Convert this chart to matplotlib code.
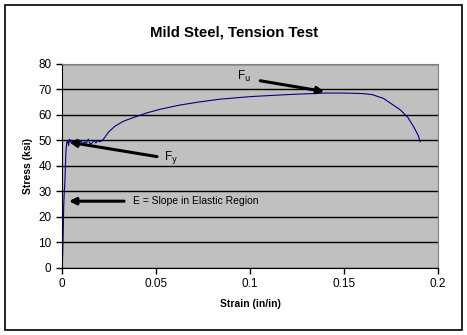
import matplotlib.pyplot as plt
from matplotlib.patches import Rectangle

plt.rcParams['font.family'] = ['Liberation Sans', 'DejaVu Sans']

strain = [0, 0.0003, 0.0006, 0.0009, 0.0012, 0.0015, 0.0018, 0.0021, 0.0025, 0.003,
          0.0035, 0.004, 0.005, 0.006, 0.007, 0.008, 0.009, 0.010, 0.011, 0.012,
          0.013, 0.014, 0.015, 0.016, 0.017, 0.018, 0.019, 0.020, 0.0215, 0.023,
          0.025, 0.028, 0.0325, 0.038, 0.045, 0.052, 0.062, 0.072, 0.084, 0.1,
          0.11, 0.12, 0.13, 0.14, 0.15, 0.16, 0.165, 0.171, 0.175, 0.18,
          0.184, 0.187, 0.1895, 0.1905]
stress = [0, 4, 13, 24, 30, 33, 40, 46, 49, 50,
          48, 50.5, 49, 50, 49.5, 50.5, 49, 50, 48.5, 49.5,
          49, 50.5, 48.5, 49, 50, 49, 50, 49.5, 50, 51.5,
          53.5, 55.5, 57.5, 59, 60.8, 62.2, 63.8, 65, 66.2, 67.2,
          67.6, 68, 68.3, 68.6, 68.6, 68.4, 68, 66.5, 64.5, 62,
          59, 55.5, 52, 49.5]

fig = plt.figure(figsize=(4.67, 3.35), dpi=100)
fig.patches.append(Rectangle((0.011, 0.015), 0.978, 0.97, transform=fig.transFigure,
                             fill=False, edgecolor='black', lw=1.2))

ax = fig.add_axes([0.1328, 0.2, 0.805, 0.609])
ax.set_facecolor('#C0C0C0')
ax.plot(strain, stress, color='#000080', lw=0.8)

ax.set_xlim(0, 0.2)
ax.set_ylim(0, 80)
ax.set_xticks([0, 0.05, 0.1, 0.15, 0.2])
ax.set_xticklabels(['0', '0.05', '0.1', '0.15', '0.2'])
ax.set_yticks(range(0, 81, 10))
ax.yaxis.grid(True, color='black', lw=1)
ax.set_axisbelow(True)
ax.tick_params(direction='out', length=4, labelsize=8.5, width=1)
for s in ['top', 'right']:
    ax.spines[s].set_color('#808080')

fig.text(0.501, 0.9015, 'Mild Steel, Tension Test', fontsize=10.8, fontweight='bold',
         ha='center', va='center')
ax.set_xlabel('Strain (in/in)', fontsize=7.5, fontweight='bold', labelpad=6)
ax.set_ylabel('Stress (ksi)', fontsize=7.5, fontweight='bold', labelpad=4)

arrow = dict(arrowstyle='-|>', color='black', lw=2.2, mutation_scale=10)
ax.annotate('', xy=(0.141, 69.0), xytext=(0.104, 73.6), arrowprops=arrow)
ax.text(0.097, 75.0, r'F$_\mathrm{u}$', fontsize=8.5, ha='center', va='center')
ax.annotate('', xy=(0.0025, 49.5), xytext=(0.052, 43.5), arrowprops=arrow)
ax.text(0.0545, 43.5, r'F$_\mathrm{y}$', fontsize=8.5, ha='left', va='center')
ax.annotate('', xy=(0.0022, 26.2), xytext=(0.0345, 26.2), arrowprops=arrow)
ax.text(0.0375, 26.2, 'E = Slope in Elastic Region', fontsize=7.5, ha='left', va='center')

fig.savefig('out.png', dpi=100)
